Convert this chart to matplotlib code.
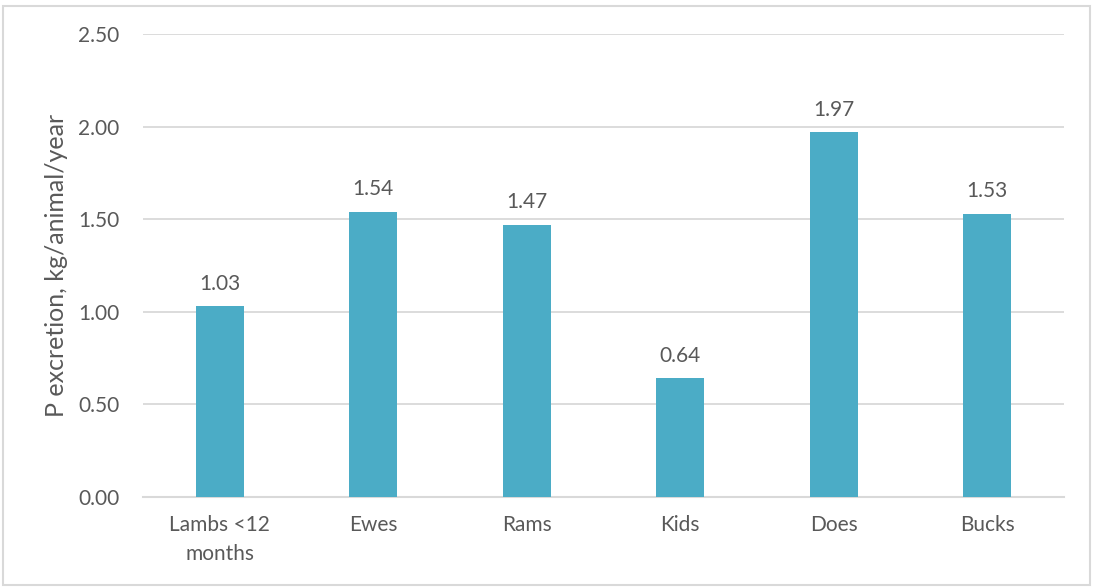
import matplotlib.pyplot as plt
from matplotlib.patches import Rectangle
import numpy as np

# Data
categories = ['Lambs <12\nmonths', 'Ewes', 'Rams', 'Kids', 'Does', 'Bucks']
values = [1.03, 1.54, 1.47, 0.64, 1.97, 1.53]
yticks = [0.0, 0.5, 1.0, 1.5, 2.0, 2.5]

BAR_COLOR = '#4BACC6'
TEXT_COLOR = '#595959'
GRID_COLOR = '#D9D9D9'
FS = 15

plt.rcParams['font.family'] = ['Lato', 'DejaVu Sans']

fig = plt.figure(figsize=(10.93, 5.87), dpi=100)
ax = fig.add_axes([0.1308, 0.1533, 0.8427, 0.7887])

x = np.arange(len(categories))
bars = ax.bar(x, values, width=0.31, color=BAR_COLOR, zorder=3)

for xi, v in zip(x, values):
    ax.annotate(f'{v:.2f}', (xi, v), xytext=(0, 9), textcoords='offset points',
                ha='center', va='bottom', fontsize=FS, color=TEXT_COLOR)

ax.set_xlim(-0.5, len(categories) - 0.5)
ax.set_ylim(0, 2.5)
ax.set_yticks(yticks)
ax.set_yticklabels([f'{t:.2f}' for t in yticks])
ax.set_xticks(x)
ax.set_xticklabels(categories, linespacing=1.55)
ax.tick_params(axis='both', length=0, labelsize=FS, labelcolor=TEXT_COLOR)
ax.tick_params(axis='y', pad=17)
ax.tick_params(axis='x', pad=13)

ax.yaxis.grid(True, color=GRID_COLOR, linewidth=1.3, zorder=0)
for s in ['top', 'right', 'left']:
    ax.spines[s].set_visible(False)
ax.spines['bottom'].set_color(GRID_COLOR)
ax.spines['bottom'].set_linewidth(1.5)

ax.set_ylabel('P excretion, kg/animal/year', fontsize=18, color=TEXT_COLOR, labelpad=7)

# light frame around the chart
fig.patches.append(Rectangle((0.003, 0.003), 0.994, 0.987, transform=fig.transFigure,
                             fill=False, edgecolor='#D9D9D9', linewidth=1.5))

fig.savefig('out.png', dpi=100)
